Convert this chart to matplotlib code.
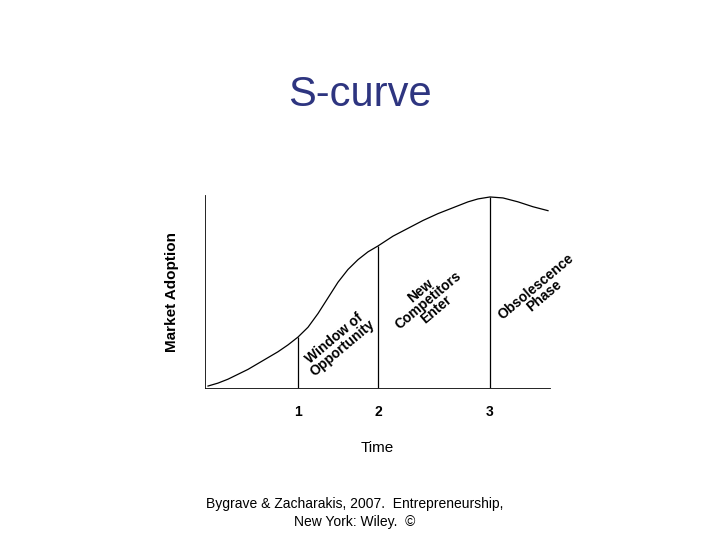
import matplotlib.pyplot as plt

plt.rcParams["font.family"] = ["Liberation Sans", "DejaVu Sans"]

# S-curve (time units, adoption units)
time_pts = [0, 10, 20, 30, 40, 50, 60, 70, 80, 90, 100, 110, 120, 130, 140, 150, 160, 170,
            185, 200, 215, 230, 245, 260, 270, 282, 295, 310, 325, 340]
adoption = [2, 5, 9, 14, 19, 25, 31, 37, 44, 52, 62, 76, 92, 108, 121, 131, 139, 145,
            155, 163, 171, 178, 184, 190, 193, 195, 194, 190, 185, 181]

markers = [90, 170, 282]
marker_heights = [52, 145, 195]
marker_labels = ["1", "2", "3"]

fig = plt.figure(figsize=(7.2, 5.4), dpi=100)
ax = fig.add_axes([205 / 720, 1 - 388 / 540, 345 / 720, 193 / 540])
ax.plot(time_pts, adoption, color="black", lw=0.9)
ax.vlines(markers, 0, marker_heights, color="black", lw=0.9)
ax.set_xlim(-3, 342)
ax.set_ylim(0, 197)
for s in ["top", "right"]:
    ax.spines[s].set_visible(False)
ax.spines["left"].set_linewidth(0.6)
ax.spines["bottom"].set_linewidth(0.6)
ax.set_yticks([])
ax.set_xticks(markers)
ax.set_xticklabels(marker_labels, fontsize=10, fontweight="bold")
ax.tick_params(axis="x", length=0, pad=12)
ax.set_xlabel("Time", fontsize=11, labelpad=16)
ax.set_ylabel("Market Adoption", fontsize=11, fontweight="bold", labelpad=14)
ax.yaxis.set_label_coords(-0.075, 0.5)

kw = dict(fontsize=10, fontweight="bold", ha="center", va="center",
          rotation=40, rotation_mode="anchor", linespacing=0.85, transform=fig.transFigure)
fig.text(338 / 720, 1 - 343 / 540, "Window of\nOpportunity", **kw)
fig.text(428 / 720, 1 - 300 / 540, "New\nCompetitors\nEnter", **kw)
fig.text(540 / 720, 1 - 291 / 540, "Obsolescence\nPhase", **kw)

fig.text(360 / 720, 1 - 95 / 540, "S-curve", fontsize=30, ha="center", va="center",
         color="#2e3580")
fig.text(355 / 720, 1 - 513 / 540,
         "Bygrave & Zacharakis, 2007.  Entrepreneurship,\nNew York: Wiley.  \u00a9",
         fontsize=10, ha="center", va="center", linespacing=1.4)

fig.savefig("out.png", dpi=100)
